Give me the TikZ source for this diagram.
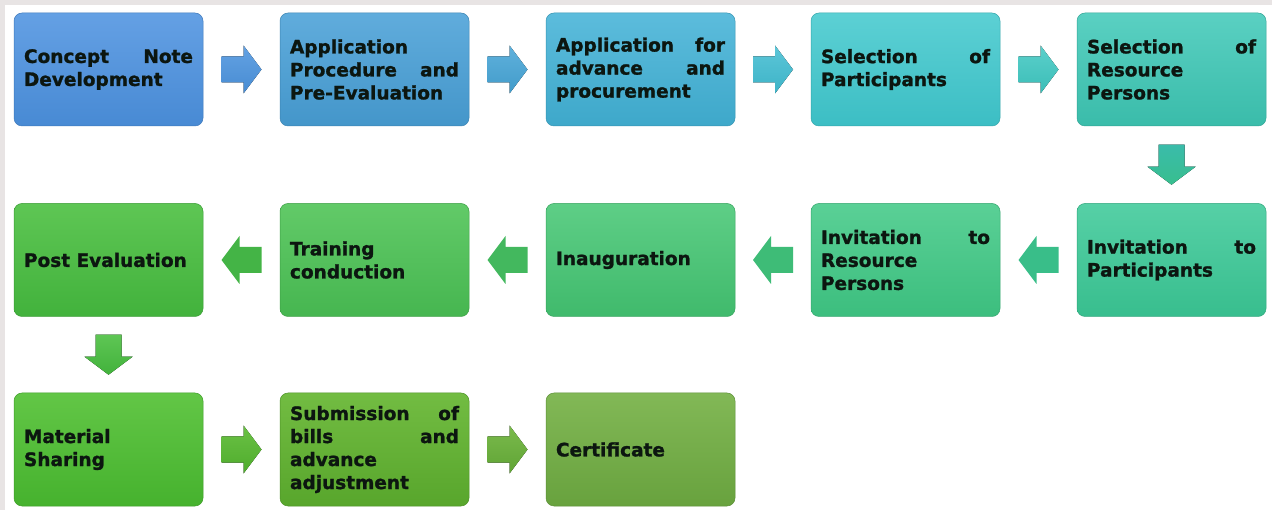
\documentclass[tikz,border=0pt]{standalone}
\usepackage{fontspec}
\newfontfamily\boxfont[FakeBold=1.3]{DejaVu Sans Bold}
\usetikzlibrary{calc}

% box fills, top / bottom of each gradient
\definecolor{c1t}{RGB}{100,160,228}\definecolor{c1b}{RGB}{72,138,212}
\definecolor{c2t}{RGB}{96,172,220}\definecolor{c2b}{RGB}{68,150,202}
\definecolor{c3t}{RGB}{92,188,220}\definecolor{c3b}{RGB}{62,168,202}
\definecolor{c4t}{RGB}{92,208,212}\definecolor{c4b}{RGB}{60,190,196}
\definecolor{c5t}{RGB}{90,208,194}\definecolor{c5b}{RGB}{58,188,170}
\definecolor{d5t}{RGB}{86,208,166}\definecolor{d5b}{RGB}{56,190,142}
\definecolor{d4t}{RGB}{90,208,150}\definecolor{d4b}{RGB}{60,190,126}
\definecolor{d3t}{RGB}{94,206,134}\definecolor{d3b}{RGB}{64,186,108}
\definecolor{d2t}{RGB}{98,202,104}\definecolor{d2b}{RGB}{70,182,80}
\definecolor{d1t}{RGB}{94,198,84}\definecolor{d1b}{RGB}{66,178,60}
\definecolor{e1t}{RGB}{98,198,70}\definecolor{e1b}{RGB}{70,178,46}
\definecolor{e2t}{RGB}{114,188,66}\definecolor{e2b}{RGB}{88,166,44}
\definecolor{e3t}{RGB}{130,184,86}\definecolor{e3b}{RGB}{104,162,62}
\definecolor{txt}{RGB}{12,22,16}
\definecolor{frame}{RGB}{232,228,228}

\tikzset{
  stepbox/.style n args={2}{
    rounded corners=8pt, top color=#1, bottom color=#2, draw=#2!88!black,
    line width=0.5pt, minimum height=113pt, text width=169pt,
    inner xsep=10pt, inner ysep=0pt, align=justify, text=txt,
    font=\boxfont\fontsize{18.5}{23}\selectfont
  },
  blockarrow/.pic={
    \fill[pic actions] (-20,-13) -- (2,-13) -- (2,-24) -- (20,0)
      -- (2,24) -- (2,13) -- (-20,13) -- cycle;
  }
}

\begin{document}
\begin{tikzpicture}[x=1pt,y=-1pt]
\useasboundingbox (0,0) rectangle (1272,510);
\fill[frame] (0,0) rectangle (1272,510);
\fill[white] (5,5) rectangle (1272,510);

\hyphenpenalty=10000 \exhyphenpenalty=10000

% first row, left to right
\node[stepbox={c1t}{c1b}] (n1) at (108.5,69.5) {Concept Note\linebreak Development};
\node[stepbox={c2t}{c2b}] (n2) at (374.5,69.5) {Application\linebreak Procedure and\linebreak Pre-Evaluation};
\node[stepbox={c3t}{c3b}] (n3) at (640.5,69.5) {Application for\linebreak advance and\linebreak procurement};
\node[stepbox={c4t}{c4b}] (n4) at (905.5,69.5) {Selection of\linebreak Participants};
\node[stepbox={c5t}{c5b}] (n5) at (1171.5,69.5) {Selection of\linebreak Resource\linebreak Persons};

% second row, right to left
\node[stepbox={d5t}{d5b}] (m5) at (1171.5,260) {Invitation to\linebreak Participants};
\node[stepbox={d4t}{d4b}] (m4) at (905.5,260) {Invitation to\linebreak Resource\linebreak Persons};
\node[stepbox={d3t}{d3b}] (m3) at (640.5,260) {Inauguration};
\node[stepbox={d2t}{d2b}] (m2) at (374.5,260) {Training\linebreak conduction};
\node[stepbox={d1t}{d1b}] (m1) at (108.5,260) {Post Evaluation};

% third row, left to right
\node[stepbox={e1t}{e1b}] (k1) at (108.5,449.5) {Material\linebreak Sharing};
\node[stepbox={e2t}{e2b}] (k2) at (374.5,449.5) {Submission of\linebreak bills and\linebreak advance\linebreak adjustment};
\node[stepbox={e3t}{e3b}] (k3) at (640.5,449.5) {Certificate};

% block arrows between the steps
\pic[top color=c1t!85!c2t, bottom color=c1b!85!c2b] at ($(n1.east)!0.5!(n2.west)$) {blockarrow};
\pic[top color=c2t!70!c3t, bottom color=c2b!70!c3b] at ($(n2.east)!0.5!(n3.west)$) {blockarrow};
\pic[top color=c3t!50!c4t, bottom color=c3b!50!c4b] at ($(n3.east)!0.5!(n4.west)$) {blockarrow};
\pic[top color=c4t!50!c5t, bottom color=c4b!50!c5b] at ($(n4.east)!0.5!(n5.west)$) {blockarrow};
\pic[rotate=-90, top color=c5b, bottom color=d5b] at ($(n5.south)!0.5!(m5.north)$) {blockarrow};
\pic[rotate=180, fill=d5b!70!d4b] at ($(m5.west)!0.5!(m4.east)$) {blockarrow};
\pic[rotate=180, fill=d4b!60!d3b] at ($(m4.west)!0.5!(m3.east)$) {blockarrow};
\pic[rotate=180, fill=d3b!50!d2b] at ($(m3.west)!0.5!(m2.east)$) {blockarrow};
\pic[rotate=180, fill=d2b!50!d1b] at ($(m2.west)!0.5!(m1.east)$) {blockarrow};
\pic[rotate=-90, top color=d1t, bottom color=d1b] at ($(m1.south)!0.5!(k1.north)$) {blockarrow};
\pic[top color=e1t!50!e2t, bottom color=e1b!50!e2b] at ($(k1.east)!0.5!(k2.west)$) {blockarrow};
\pic[top color=e2t!50!e3t, bottom color=e2b!50!e3b] at ($(k2.east)!0.5!(k3.west)$) {blockarrow};
\end{tikzpicture}
\end{document}
